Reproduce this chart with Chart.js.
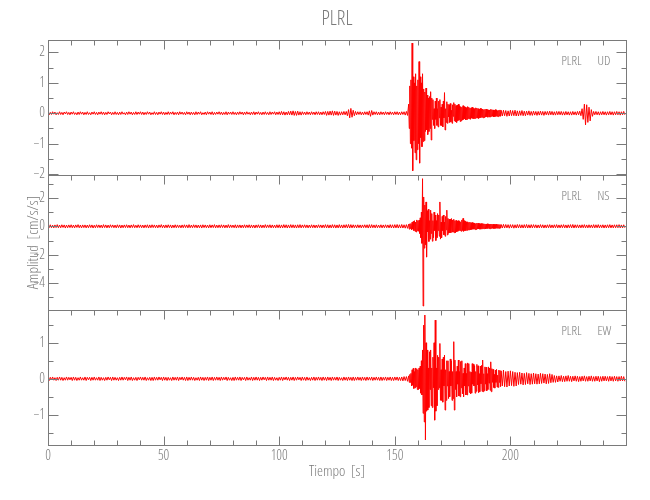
<!DOCTYPE html>
<html>
<head>
<meta charset="utf-8">
<title>PLRL</title>
<script src="https://cdn.jsdelivr.net/npm/chart.js@4/dist/chart.umd.min.js"></script>
<style>
  body { margin: 0; background: #fff; }
  canvas { display: block; }
</style>
</head>
<body>
<canvas id="plrlChart" width="650" height="500"></canvas>
<script>
// Sampling of each record: pre-event noise (0.5 s), strong motion (0.25 s), coda (0.5 s).
const quietStart = 0, quietStep = 0.5;
const strongStart = 156, strongStep = 0.25;
const tailStart = 196, tailStep = 0.5;

// UD component, cm/s/s
const udQuiet = [
  0.04,-0.05,0.03,-0.04,0.05,-0.03,0.04,-0.05,0.02,-0.04,0.05,-0.04,0.03,-0.05,0.04,-0.02,0.05,-0.04,0.03,-0.05,
  0.04,-0.03,0.05,-0.04,0.02,-0.05,0.04,-0.04,0.05,-0.03,0.04,-0.05,0.03,-0.04,0.05,-0.04,0.02,-0.05,0.04,-0.03,
  0.05,-0.04,0.03,-0.05,0.04,-0.03,0.05,-0.04,0.04,-0.05,0.03,-0.04,0.05,-0.02,0.04,-0.05,0.03,-0.04,0.05,-0.04,
  0.03,-0.05,0.04,-0.04,0.05,-0.03,0.02,-0.05,0.04,-0.04,0.05,-0.03,0.04,-0.05,0.03,-0.04,0.05,-0.04,0.04,-0.03,
  0.05,-0.04,0.04,-0.05,0.03,-0.04,0.05,-0.03,0.04,-0.05,0.02,-0.04,0.05,-0.04,0.03,-0.05,0.04,-0.03,0.05,-0.04,
  0.04,-0.05,0.03,-0.04,0.05,-0.04,0.04,-0.03,0.05,-0.05,0.03,-0.04,0.04,-0.05,0.05,-0.03,0.04,-0.04,0.03,-0.05,
  0.05,-0.03,0.04,-0.05,0.04,-0.04,0.03,-0.05,0.05,-0.04,0.04,-0.03,0.05,-0.05,0.02,-0.04,0.04,-0.05,0.05,-0.03,
  0.04,-0.04,0.05,-0.05,0.03,-0.04,0.04,-0.03,0.05,-0.04,0.04,-0.05,0.03,-0.04,0.05,-0.05,0.04,-0.03,0.04,-0.04,
  0.05,-0.04,0.03,-0.05,0.04,-0.04,0.05,-0.03,0.04,-0.05,0.04,-0.04,0.05,-0.03,0.03,-0.05,0.04,-0.04,0.05,-0.05,
  0.04,-0.03,0.05,-0.04,0.03,-0.05,0.04,-0.04,0.05,-0.04,0.03,-0.05,0.05,-0.04,0.04,-0.03,0.05,-0.05,0.04,-0.04,
  0.05,-0.05,0.06,-0.05,0.05,-0.06,0.04,-0.05,0.06,-0.05,0.07,-0.06,0.08,-0.07,0.06,-0.07,0.07,-0.06,0.05,-0.06,
  0.05,-0.04,0.04,-0.05,0.05,-0.04,0.04,-0.05,0.05,-0.04,0.04,-0.05,0.05,-0.04,0.05,-0.05,0.04,-0.05,0.05,-0.04,
  0.06,-0.07,0.06,-0.06,0.07,-0.06,0.08,-0.07,0.07,-0.06,0.06,-0.07,0.05,-0.06,0.05,-0.05,0.06,-0.05,0.06,-0.08,
  0.12,-0.15,0.16,-0.13,0.1,-0.08,0.06,-0.05,0.05,-0.04,0.05,-0.05,0.04,-0.05,0.05,-0.04,0.05,-0.06,0.08,-0.1,
  0.09,-0.06,0.05,-0.04,0.05,-0.05,0.04,-0.05,0.05,-0.04,0.04,-0.05,0.05,-0.04,0.04,-0.05,0.05,-0.04,0.04,-0.05,
  0.05,-0.04,0.05,-0.05,0.04,-0.05,0.05,-0.04,0.05,-0.06,0.06,-0.07
];
const udStrong = [
  0.3,-0.5,0.9,-1.0,    1.1,-1.15,2.31,-1.89, 1.2,-0.9,1.0,-1.3,    1.3,-1.53,0.9,-1.2,
  1.1,-1.0,1.7,-1.64,   1.2,-0.8,1.0,-1.1,    1.3,-0.93,0.8,-0.9,   0.7,-0.6,0.83,-0.55,
  0.6,-0.7,0.5,-0.6,    0.55,-0.5,0.71,-0.88, 0.5,-0.2,0.45,-0.4,   0.15,-0.5,0.4,-0.2,
  0.5,-0.4,0.15,-0.45,  0.4,-0.15,0.45,-0.4,  0.2,-0.4,0.3,-0.45,   0.4,-0.15,0.68,-0.55,
  0.15,-0.3,0.38,-0.33, 0.3,-0.12,0.28,-0.3,  0.32,-0.28,0.1,-0.33, 0.28,-0.1,0.35,-0.25,
  0.3,-0.28,0.25,-0.3,  0.27,-0.25,0.3,-0.22, 0.25,-0.27,0.22,-0.25, 0.2,-0.22,0.25,-0.2,
  0.22,-0.18,0.2,-0.22, 0.18,-0.2,0.22,-0.17, 0.2,-0.18,0.17,-0.2,  0.18,-0.16,0.2,-0.17,
  0.16,-0.18,0.15,-0.17, 0.18,-0.15,0.17,-0.16, 0.15,-0.17,0.14,-0.15, 0.16,-0.14,0.15,-0.13,
  0.14,-0.15,0.12,-0.14, 0.13,-0.12,0.14,-0.11, 0.12,-0.13,0.11,-0.12, 0.11,-0.12,0.13,-0.1,
  0.12,-0.1,0.11,-0.12, 0.1,-0.11,0.12,-0.1,  0.11,-0.1,0.09,-0.11, 0.1,-0.09,0.11,-0.1
];
const udTail = [
  0.1,-0.09,0.1,-0.08,0.09,-0.1,0.08,-0.09,0.1,-0.08,
  0.09,-0.08,0.1,-0.09,0.08,-0.09,0.08,-0.07,0.09,-0.08,
  0.07,-0.08,0.07,-0.06,0.08,-0.07,0.06,-0.07,0.07,-0.06,
  0.06,-0.07,0.06,-0.06,0.07,-0.06,0.06,-0.07,0.06,-0.05,
  0.06,-0.06,0.07,-0.05,0.06,-0.06,0.05,-0.06,0.06,-0.05,
  0.06,-0.05,0.06,-0.06,0.05,-0.06,0.06,-0.05,0.05,-0.06,
  0.05,-0.06,0.06,-0.05,0.05,-0.06,0.06,-0.05,0.07,-0.08,
  0.15,-0.2,0.3,-0.38,0.28,-0.3,0.2,-0.25,0.12,-0.1,
  0.06,-0.05,0.06,-0.05,0.05,-0.06,0.05,-0.05,0.06,-0.05,
  0.05,-0.06,0.05,-0.05,0.06,-0.05,0.05,-0.06,0.05,-0.05,
  0.06,-0.05,0.05,-0.06,0.05,-0.05,0.06,-0.05
];

// NS component, cm/s/s
const nsQuiet = [
  0.1,-0.09,0.11,-0.1,0.08,-0.11,0.1,-0.09,0.12,-0.1,0.09,-0.1,0.11,-0.08,0.1,-0.12,0.09,-0.1,0.1,-0.09,
  0.11,-0.1,0.09,-0.11,0.1,-0.08,0.12,-0.1,0.09,-0.11,0.1,-0.09,0.1,-0.11,0.09,-0.1,0.11,-0.09,0.1,-0.12,
  0.08,-0.1,0.11,-0.09,0.1,-0.1,0.09,-0.11,0.12,-0.09,0.1,-0.11,0.09,-0.1,0.11,-0.08,0.1,-0.1,0.09,-0.11,
  0.11,-0.09,0.1,-0.12,0.09,-0.1,0.1,-0.09,0.11,-0.1,0.09,-0.11,0.1,-0.09,0.12,-0.1,0.08,-0.1,0.11,-0.09,
  0.1,-0.1,0.09,-0.11,0.1,-0.09,0.11,-0.12,0.1,-0.1,0.11,-0.09,0.1,-0.1,0.09,-0.11,0.1,-0.08,0.12,-0.1,
  0.09,-0.11,0.1,-0.1,0.11,-0.09,0.1,-0.12,0.09,-0.1,0.11,-0.1,0.1,-0.09,0.08,-0.11,0.1,-0.1,0.11,-0.09,
  0.1,-0.11,0.12,-0.1,0.09,-0.1,0.11,-0.09,0.1,-0.11,0.09,-0.1,0.1,-0.12,0.11,-0.09,0.1,-0.1,0.09,-0.11,
  0.11,-0.1,0.1,-0.09,0.12,-0.11,0.09,-0.1,0.1,-0.1,0.11,-0.09,0.1,-0.11,0.09,-0.1,0.12,-0.1,0.1,-0.09,
  0.09,-0.1,0.11,-0.12,0.1,-0.09,0.1,-0.11,0.09,-0.1,0.11,-0.1,0.1,-0.09,0.11,-0.11,0.1,-0.1,0.09,-0.12,
  0.1,-0.09,0.11,-0.1,0.1,-0.11,0.09,-0.1,0.12,-0.1,0.1,-0.09,0.11,-0.11,0.1,-0.1,0.09,-0.11,0.11,-0.1,
  0.11,-0.12,0.1,-0.11,0.12,-0.1,0.11,-0.12,0.1,-0.11,0.12,-0.1,0.11,-0.11,0.1,-0.12,0.11,-0.1,0.12,-0.11,
  0.1,-0.09,0.11,-0.1,0.1,-0.11,0.09,-0.1,0.11,-0.1,0.1,-0.11,0.09,-0.1,0.11,-0.09,0.1,-0.11,0.1,-0.1,
  0.12,-0.11,0.11,-0.12,0.1,-0.11,0.12,-0.1,0.11,-0.12,0.1,-0.11,0.12,-0.11,0.1,-0.12,0.11,-0.1,0.12,-0.11,
  0.13,-0.12,0.12,-0.11,0.11,-0.1,0.1,-0.11,0.11,-0.1,0.1,-0.11,0.1,-0.09,0.11,-0.1,0.11,-0.12,0.12,-0.11,
  0.12,-0.1,0.1,-0.11,0.11,-0.1,0.09,-0.1,0.11,-0.11,0.1,-0.1,0.11,-0.1,0.1,-0.11,0.12,-0.11,0.11,-0.12,
  0.12,-0.11,0.13,-0.12,0.11,-0.12,0.13,-0.12,0.11,-0.13,0.12,-0.14
];
const nsStrong = [
  0.15,-0.2,0.18,-0.15, 0.2,-0.25,0.3,-0.2,   0.35,-0.3,0.4,-0.35,  0.3,-0.4,0.45,-0.3,
  0.4,-0.35,0.44,-0.5,  0.6,-0.8,1.0,-1.2,    3.36,-5.62,2.07,-1.54, 1.5,-1.3,1.72,-2.17,
  1.1,-0.4,1.2,-1.07,   0.4,-0.9,1.14,-0.5,   0.9,-1.05,0.4,-0.8,   1.0,-0.3,0.8,-1.0,
  0.4,-0.8,0.9,-0.3,    0.8,-0.7,1.72,-0.9,   0.3,-0.8,0.7,-0.3,    0.8,-0.6,0.3,-0.7,
  0.7,-0.25,1.14,-0.61, 0.56,-0.49,0.5,-0.45, 0.5,-0.45,0.55,-0.4,  0.45,-0.4,0.5,-0.45,
  0.4,-0.45,0.42,-0.38, 0.38,-0.35,0.4,-0.3,  0.35,-0.3,0.32,-0.35, 0.45,-0.3,0.56,-0.35,
  0.4,-0.3,0.35,-0.3,   0.3,-0.28,0.32,-0.25, 0.28,-0.25,0.3,-0.24, 0.25,-0.22,0.27,-0.2,
  0.24,-0.2,0.22,-0.23, 0.2,-0.22,0.23,-0.18, 0.22,-0.18,0.2,-0.2,  0.18,-0.2,0.2,-0.17,
  0.2,-0.16,0.18,-0.17, 0.17,-0.18,0.16,-0.15, 0.18,-0.15,0.17,-0.16, 0.15,-0.17,0.16,-0.14,
  0.16,-0.14,0.15,-0.15, 0.14,-0.15,0.13,-0.14, 0.15,-0.13,0.14,-0.13, 0.13,-0.14,0.12,-0.13
];
const nsTail = [
  0.13,-0.12,0.14,-0.12,0.13,-0.11,0.12,-0.13,0.12,-0.11,
  0.12,-0.13,0.11,-0.12,0.13,-0.11,0.12,-0.12,0.11,-0.12,
  0.12,-0.11,0.13,-0.12,0.11,-0.12,0.12,-0.11,0.12,-0.1,
  0.11,-0.12,0.1,-0.11,0.12,-0.1,0.11,-0.12,0.1,-0.11,
  0.11,-0.1,0.12,-0.11,0.1,-0.11,0.11,-0.1,0.12,-0.11,
  0.1,-0.11,0.11,-0.1,0.12,-0.11,0.1,-0.12,0.11,-0.1,
  0.12,-0.11,0.13,-0.12,0.11,-0.1,0.11,-0.11,0.1,-0.11,
  0.11,-0.1,0.12,-0.11,0.1,-0.11,0.11,-0.1,0.1,-0.11,
  0.12,-0.11,0.11,-0.1,0.12,-0.11,0.1,-0.1,0.11,-0.12,
  0.1,-0.11,0.11,-0.1,0.12,-0.11,0.1,-0.11,0.11,-0.1,
  0.11,-0.1,0.12,-0.11,0.1,-0.11,0.11,-0.1
];

// EW component, cm/s/s
const ewQuiet = [
  0.04,-0.05,0.04,-0.03,0.05,-0.04,0.03,-0.05,0.04,-0.04,0.05,-0.04,0.04,-0.05,0.03,-0.04,0.05,-0.04,0.04,-0.03,
  0.04,-0.05,0.05,-0.04,0.04,-0.05,0.03,-0.04,0.05,-0.04,0.03,-0.04,0.05,-0.05,0.04,-0.03,0.04,-0.05,0.04,-0.04,
  0.05,-0.04,0.03,-0.04,0.05,-0.05,0.04,-0.04,0.03,-0.05,0.04,-0.04,0.05,-0.03,0.04,-0.05,0.05,-0.04,0.04,-0.04,
  0.03,-0.05,0.04,-0.04,0.05,-0.04,0.04,-0.03,0.05,-0.05,0.04,-0.04,0.05,-0.05,0.03,-0.04,0.04,-0.05,0.04,-0.03,
  0.05,-0.04,0.04,-0.04,0.05,-0.05,0.03,-0.04,0.04,-0.05,0.04,-0.05,0.05,-0.04,0.04,-0.04,0.05,-0.03,0.04,-0.05,
  0.05,-0.04,0.04,-0.05,0.04,-0.04,0.03,-0.05,0.05,-0.04,0.04,-0.04,0.05,-0.05,0.04,-0.03,0.05,-0.04,0.04,-0.05,
  0.05,-0.05,0.04,-0.04,0.05,-0.04,0.04,-0.05,0.03,-0.04,0.04,-0.05,0.05,-0.04,0.04,-0.05,0.04,-0.04,0.05,-0.05,
  0.04,-0.04,0.05,-0.05,0.04,-0.04,0.05,-0.04,0.04,-0.05,0.05,-0.04,0.04,-0.03,0.05,-0.05,0.04,-0.04,0.03,-0.05,
  0.04,-0.05,0.05,-0.04,0.04,-0.04,0.05,-0.05,0.04,-0.03,0.04,-0.05,0.05,-0.04,0.03,-0.04,0.05,-0.05,0.04,-0.04,
  0.05,-0.04,0.04,-0.05,0.04,-0.04,0.05,-0.03,0.04,-0.05,0.05,-0.04,0.04,-0.04,0.05,-0.05,0.04,-0.04,0.03,-0.05,
  0.04,-0.04,0.05,-0.05,0.04,-0.03,0.05,-0.04,0.04,-0.05,0.04,-0.04,0.05,-0.05,0.04,-0.04,0.05,-0.03,0.04,-0.05,
  0.05,-0.04,0.04,-0.05,0.05,-0.04,0.03,-0.05,0.04,-0.04,0.05,-0.05,0.04,-0.04,0.05,-0.04,0.04,-0.05,0.05,-0.04,
  0.04,-0.05,0.05,-0.04,0.04,-0.05,0.05,-0.04,0.04,-0.04,0.05,-0.05,0.04,-0.04,0.03,-0.05,0.05,-0.04,0.04,-0.05,
  0.05,-0.04,0.04,-0.05,0.05,-0.05,0.04,-0.04,0.05,-0.04,0.04,-0.05,0.05,-0.04,0.04,-0.05,0.05,-0.04,0.04,-0.04,
  0.05,-0.05,0.04,-0.04,0.05,-0.04,0.04,-0.05,0.05,-0.05,0.04,-0.04,0.05,-0.05,0.04,-0.04,0.05,-0.05,0.04,-0.05,
  0.05,-0.04,0.05,-0.05,0.04,-0.05,0.05,-0.06,0.06,-0.05,0.06,-0.07
];
const ewStrong = [
  0.08,-0.1,0.12,-0.1,  0.15,-0.2,0.25,-0.18, 0.29,-0.27,0.2,-0.25, 0.3,-0.22,0.28,-0.3,
  0.25,-0.3,0.3,-0.27,  0.35,-0.4,0.5,-0.45,  0.8,-0.96,1.49,-1.2,  1.77,-1.7,1.0,-0.9,
  0.8,-0.87,0.3,-0.8,   0.75,-0.3,0.8,-0.75,  0.3,-0.8,0.6,-0.25,   1.0,-1.15,1.63,-0.9,
  0.3,-0.75,0.65,-0.3,  0.6,-0.25,0.98,-0.6,  0.25,-0.6,0.55,-0.65, 0.6,-0.2,0.66,-0.87,
  0.25,-0.6,0.5,-0.2,   0.5,-0.55,0.2,-0.5,   0.55,-0.2,0.5,-0.6,   0.2,-0.55,1.03,-0.87,
  0.52,-0.3,0.2,-0.5,   0.35,-0.15,0.52,-0.48, 0.2,-0.5,0.48,-0.25, 0.5,-0.42,0.15,-0.5,
  0.3,-0.2,0.42,-0.45,  0.15,-0.45,0.44,-0.2, 0.42,-0.38,0.2,-0.42, 0.18,-0.4,0.42,-0.15,
  0.4,-0.2,0.36,-0.4,   0.2,-0.35,0.4,-0.17,  0.36,-0.38,0.14,-0.36, 0.35,-0.14,0.37,-0.35,
  0.52,-0.36,0.14,-0.33, 0.33,-0.15,0.32,-0.34, 0.14,-0.3,0.33,-0.12, 0.3,-0.32,0.47,-0.36,
  0.28,-0.1,0.26,-0.24, 0.12,-0.26,0.24,-0.1, 0.26,-0.23,0.1,-0.24, 0.24,-0.1,0.23,-0.22
];
const ewTail = [
  0.22,-0.2,0.24,-0.22,0.2,-0.23,0.21,-0.2,0.22,-0.19,
  0.2,-0.21,0.18,-0.2,0.17,-0.16,0.18,-0.15,0.16,-0.17,
  0.15,-0.16,0.17,-0.14,0.15,-0.16,0.14,-0.15,0.16,-0.14,
  0.14,-0.15,0.13,-0.14,0.15,-0.13,0.14,-0.12,0.13,-0.14,
  0.12,-0.13,0.14,-0.11,0.12,-0.1,0.09,-0.1,0.08,-0.09,
  0.08,-0.07,0.09,-0.08,0.07,-0.08,0.08,-0.07,0.09,-0.07,
  0.07,-0.08,0.07,-0.06,0.08,-0.07,0.07,-0.08,0.06,-0.07,
  0.07,-0.06,0.08,-0.07,0.06,-0.07,0.07,-0.06,0.08,-0.07,
  0.06,-0.07,0.07,-0.06,0.07,-0.08,0.06,-0.07,0.07,-0.06,
  0.07,-0.06,0.06,-0.07,0.07,-0.06,0.06,-0.07,0.07,-0.06,
  0.06,-0.07,0.06,-0.06,0.07,-0.06,0.06,-0.07
];

// Axis limits and labelled ticks
const timeRange = [0, 250];
const timeLabels = [0, 50, 100, 150, 200];
const udRange = [-2.03, 2.41], udLabels = [2, 1, 0, -1, -2];
const nsRange = [-5.9, 3.62], nsLabels = [2, 0, -2, -4];
const ewRange = [-1.84, 1.91], ewLabels = [1, 0, -1];

const station = 'PLRL';
const grey = '#7a7a7a';
const fontFamily = "'Open Sans', Roboto, sans-serif";
const fontStyle = '300 condensed';

// Turn the sampled segments into {x, y} points.
function toPoints(segments) {
    const points = [];
    segments.forEach(([start, step, values]) => {
        values.forEach((v, i) => points.push({ x: start + i * step, y: v }));
    });
    return points;
}

function trace(segments, axisId) {
    return {
        data: toPoints(segments),
        yAxisID: axisId,
        borderColor: '#ff0000',
        borderWidth: 1,
        pointRadius: 0,
        tension: 0,
        fill: false
    };
}

function fmt(v) {
    return v < 0 ? '\u2212' + Math.abs(v) : String(v);
}

function ampAxis(range, labels) {
    return {
        type: 'linear',
        position: 'left',
        stack: 'panels',
        stackWeight: 1,
        min: range[0],
        max: range[1],
        grid: { display: false, drawTicks: false },
        border: { display: false },
        ticks: {
            stepSize: labels.length === 4 ? 1 : 0.5,
            includeBounds: false,
            autoSkip: false,
            padding: 3,
            color: grey,
            font: { family: fontFamily, size: 14, weight: fontStyle },
            callback: v => labels.includes(v) ? fmt(v) : ''
        },
        afterFit: scale => { scale.width = 48; }
    };
}

// Panels from top to bottom, with their component names.
const panels = [
    { id: 'yUD', name: 'UD', labels: udLabels },
    { id: 'yNS', name: 'NS', labels: nsLabels },
    { id: 'yEW', name: 'EW', labels: ewLabels }
];

// Frames, inward ticks, panel names and titles.
const framePlugin = {
    id: 'frame',
    afterDraw(chart) {
        const { ctx, chartArea, scales } = chart;
        const xs = scales.x;
        const left = Math.round(chartArea.left) + 0.5;
        const right = Math.round(chartArea.right) + 0.5;
        const line = (x1, y1, x2, y2) => {
            ctx.beginPath(); ctx.moveTo(x1, y1); ctx.lineTo(x2, y2); ctx.stroke();
        };
        ctx.save();
        ctx.strokeStyle = grey;
        ctx.fillStyle = grey;
        ctx.lineWidth = 1;

        panels.forEach((p, idx) => {
            const s = scales[p.id];
            const top = Math.round(s.top) + 0.5;
            const bottom = Math.round(s.bottom) + 0.5;
            ctx.strokeRect(left, top, right - left, bottom - top);

            s.ticks.forEach(t => {
                const y = Math.round(s.getPixelForValue(t.value)) + 0.5;
                const len = p.labels.includes(t.value) ? 10 : 5;
                line(left, y, left + len, y);
                line(right, y, right - len, y);
            });

            xs.ticks.forEach(t => {
                const x = Math.round(xs.getPixelForValue(t.value)) + 0.5;
                const len = t.value % 50 === 0 ? 9 : 5;
                line(x, top, x, top + len);
                if (idx === panels.length - 1) line(x, bottom, x, bottom - len);
            });

            ctx.font = fontStyle + ' 13px ' + fontFamily;
            ctx.textBaseline = 'middle';
            ctx.textAlign = 'left';
            ctx.fillText(station, right - 65, s.top + 21);
            ctx.fillText(p.name, right - 29, s.top + 21);
        });

        // main title
        ctx.font = fontStyle + ' 20px ' + fontFamily;
        ctx.textAlign = 'center';
        ctx.fillText(station, (chartArea.left + chartArea.right) / 2, 19);

        // axis titles
        ctx.font = fontStyle + ' 15px ' + fontFamily;
        ctx.fillText('Tiempo  [s]', (chartArea.left + chartArea.right) / 2, 472);
        ctx.translate(34, (chartArea.top + chartArea.bottom) / 2);
        ctx.rotate(-Math.PI / 2);
        ctx.fillText('Amplitud  [cm/s/s]', 0, 0);
        ctx.restore();
    }
};

document.addEventListener('DOMContentLoaded', () => {
    const canvas = document.getElementById('plrlChart');
    if (!canvas) {
        return;
    }

    new Chart(canvas.getContext('2d'), {
        type: 'line',
        data: {
            // EW first: the first axis of a stack goes to the bottom
            datasets: [
                trace([[quietStart, quietStep, ewQuiet], [strongStart, strongStep, ewStrong], [tailStart, tailStep, ewTail]], 'yEW'),
                trace([[quietStart, quietStep, nsQuiet], [strongStart, strongStep, nsStrong], [tailStart, tailStep, nsTail]], 'yNS'),
                trace([[quietStart, quietStep, udQuiet], [strongStart, strongStep, udStrong], [tailStart, tailStep, udTail]], 'yUD')
            ]
        },
        options: {
            responsive: false,
            animation: false,
            layout: { padding: { top: 40, right: 24, left: 0, bottom: 0 } },
            plugins: {
                legend: { display: false },
                tooltip: { enabled: false }
            },
            scales: {
                x: {
                    type: 'linear',
                    min: timeRange[0],
                    max: timeRange[1],
                    grid: { display: false, drawTicks: false },
                    border: { display: false },
                    ticks: {
                        stepSize: 10,
                        autoSkip: false,
                        maxRotation: 0,
                        padding: 3,
                        color: grey,
                        font: { family: fontFamily, size: 14, weight: fontStyle },
                        callback: v => timeLabels.includes(v) ? String(v) : ''
                    },
                    afterFit: scale => { scale.height = 55; }
                },
                yEW: ampAxis(ewRange, ewLabels),
                yNS: ampAxis(nsRange, nsLabels),
                yUD: ampAxis(udRange, udLabels)
            }
        },
        plugins: [framePlugin]
    });
});
</script>
</body>
</html>
